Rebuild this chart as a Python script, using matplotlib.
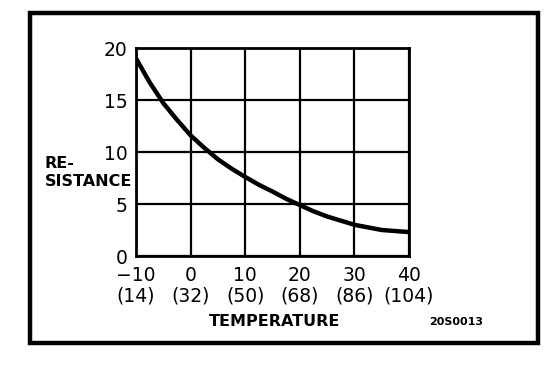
import matplotlib
matplotlib.use('Agg')
import matplotlib.pyplot as plt
from matplotlib.patches import Rectangle

# temperature in deg C and resistance
temp_c = [-10, -7.5, -5, -2.5, 0, 2.5, 5, 7.5, 10, 12.5, 15, 17.5,
          20, 22.5, 25, 27.5, 30, 32.5, 35, 37.5, 40]
resistance = [19.0, 16.7, 14.7, 13.1, 11.6, 10.4, 9.3, 8.4, 7.6, 6.85, 6.2, 5.5,
              4.9, 4.3, 3.8, 3.4, 3.0, 2.75, 2.5, 2.4, 2.3]

x_ticks = [-10, 0, 10, 20, 30, 40]
x_labels = ['\u221210\n(14)', '0\n(32)', '10\n(50)', '20\n(68)', '30\n(86)', '40\n(104)']
y_ticks = [0, 5, 10, 15, 20]

plt.rcParams['font.family'] = ['DejaVu Sans']

fig = plt.figure(figsize=(5.6, 3.76), dpi=100)
ax = fig.add_axes([136 / 560, 1 - 256 / 376, 273 / 560, 208 / 376])

ax.plot(temp_c, resistance, color='black', linewidth=3.2,
        solid_capstyle='butt', solid_joinstyle='round')

ax.set_xlim(-10, 40)
ax.set_ylim(0, 20)
ax.set_xticks(x_ticks)
ax.set_xticklabels(x_labels, fontsize=13.5, linespacing=1.12)
ax.set_yticks(y_ticks)
ax.set_yticklabels([str(v) for v in y_ticks], fontsize=13.5)
ax.tick_params(length=0, pad=6)
ax.tick_params(axis='x', pad=7)
ax.grid(True, color='black', linewidth=1.6)
for s in ax.spines.values():
    s.set_linewidth(2.0)

fig.text(275 / 560, 1 - 321 / 376, 'TEMPERATURE', fontsize=11.5, fontweight='bold',
         ha='center', va='center')
fig.text(45 / 560, 1 - 163 / 376, 'RE-', fontsize=11.5, fontweight='bold',
         ha='left', va='center')
fig.text(45 / 560, 1 - 181 / 376, 'SISTANCE', fontsize=11.5, fontweight='bold',
         ha='left', va='center')
fig.text(456 / 560, 1 - 322 / 376, '20S0013', fontsize=8, fontweight='bold',
         ha='center', va='center')

# outer frame
fig.patches.append(Rectangle((30 / 560, 1 - 343 / 376), 508 / 560, 330 / 376,
                             transform=fig.transFigure, fill=False,
                             edgecolor='black', linewidth=3.2))

fig.savefig('out.png', dpi=100)
